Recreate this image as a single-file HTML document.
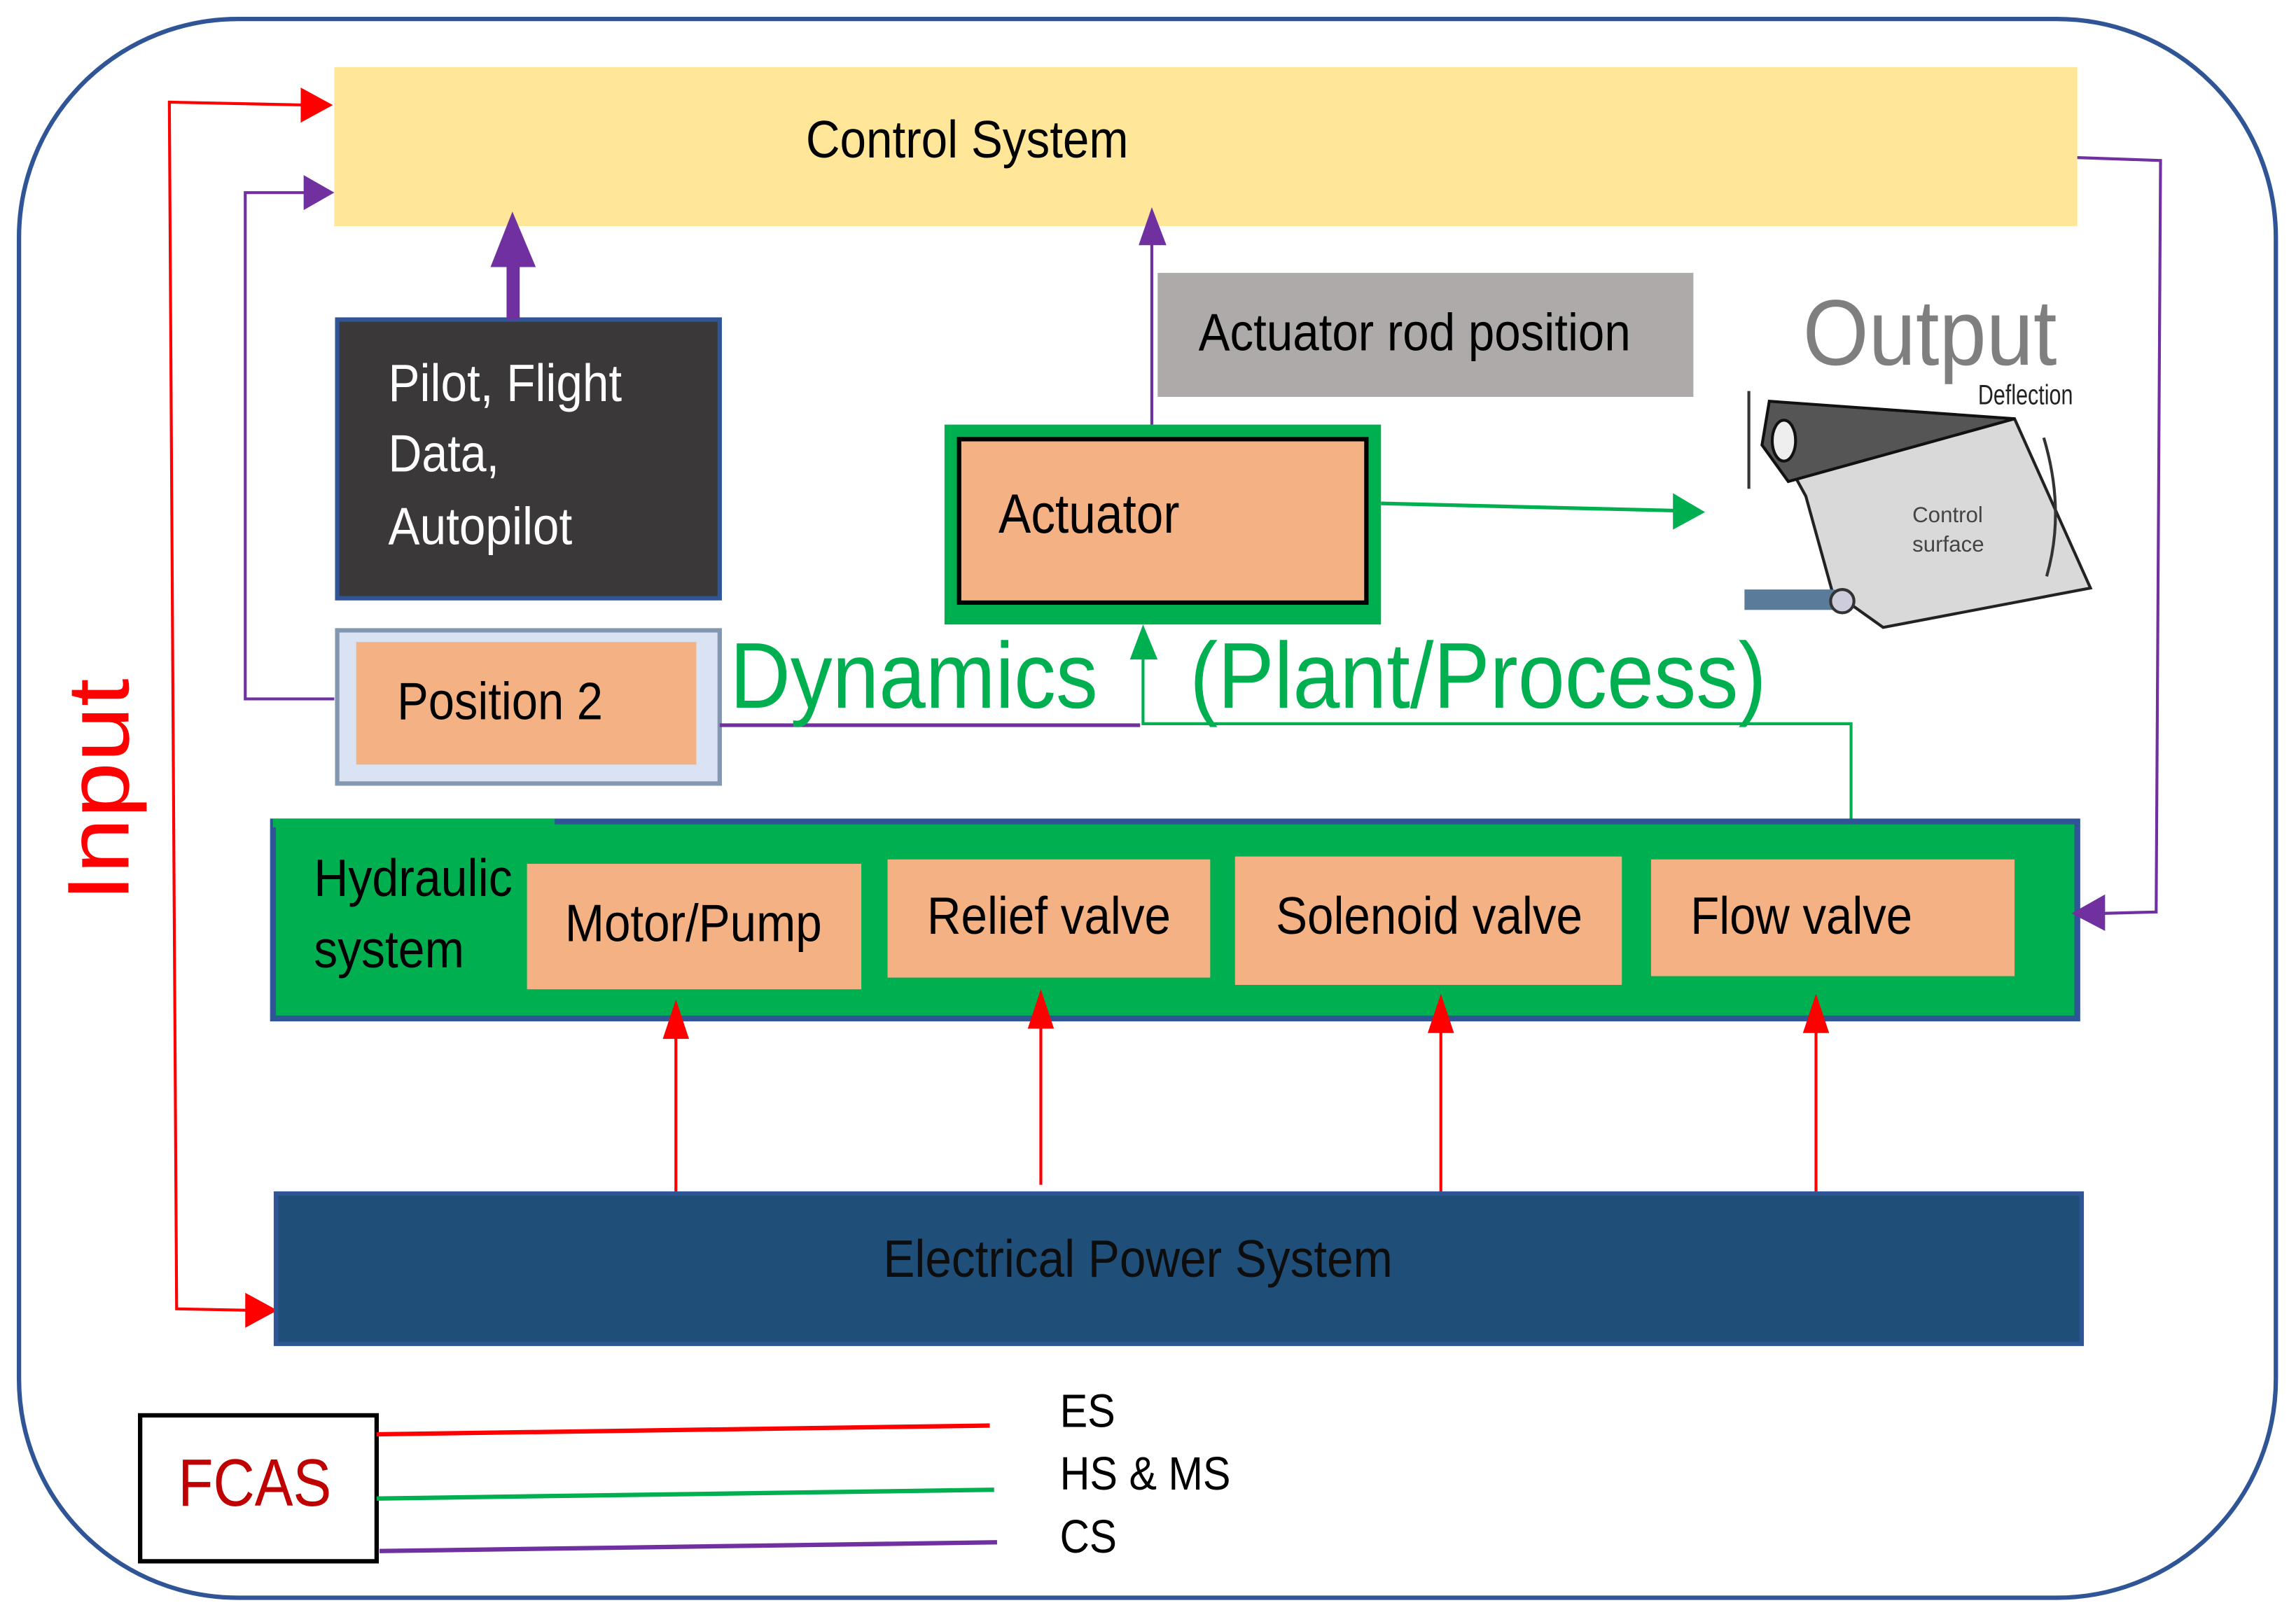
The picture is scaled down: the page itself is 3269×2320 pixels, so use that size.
<!DOCTYPE html>
<html><head><meta charset="utf-8"><style>html,body{margin:0;padding:0;background:#fff}svg{display:block}</style></head>
<body>
<svg width="3269" height="2320" viewBox="0 0 1568 1113" preserveAspectRatio="none" xmlns="http://www.w3.org/2000/svg" font-family="'Liberation Sans', Arial, sans-serif">
<rect x="13" y="13" width="1546" height="1082" rx="150" ry="150" fill="#fff" stroke="#2f5597" stroke-width="3"/>
<!-- Control system -->
<rect x="229" y="46" width="1194" height="109" fill="#ffe699"/>
<text x="552" y="108" font-size="36" textLength="221" lengthAdjust="spacingAndGlyphs">Control System</text>
<!-- red input line -->
<polyline points="210,72 116,70 121,897 170,898" fill="none" stroke="#ff0000" stroke-width="2"/>
<polygon points="206,60 228,72 206,84" fill="#ff0000"/>
<polygon points="168,886 190,898 168,910" fill="#ff0000"/>
<!-- purple loop from position 2 -->
<polyline points="229,479 168,479 168,132 212,132" fill="none" stroke="#7030a0" stroke-width="2"/>
<polygon points="208,120 229,132 208,144" fill="#7030a0"/>
<!-- pilot box -->
<rect x="231" y="219" width="262" height="191" fill="#3a3838" stroke="#2f5597" stroke-width="3"/>
<text fill="#fff" font-size="36"><tspan x="266" y="275" textLength="160" lengthAdjust="spacingAndGlyphs">Pilot, Flight</tspan><tspan x="266" y="323" textLength="76" lengthAdjust="spacingAndGlyphs">Data,</tspan><tspan x="266" y="373" textLength="126" lengthAdjust="spacingAndGlyphs">Autopilot</tspan></text>
<rect x="347" y="178" width="9" height="41" fill="#7030a0"/>
<polygon points="336,183 351,145 367,183" fill="#7030a0"/>
<!-- actuator rod position -->
<rect x="793" y="187" width="367" height="85" fill="#aeaaaa"/>
<text x="821" y="240" font-size="36" textLength="296" lengthAdjust="spacingAndGlyphs">Actuator rod position</text>
<line x1="789" y1="291" x2="789" y2="165" stroke="#7030a0" stroke-width="2"/>
<polygon points="780,168 789,142 799,168" fill="#7030a0"/>
<!-- actuator -->
<rect x="647" y="291" width="299" height="137" fill="#00b050"/>
<rect x="657" y="301" width="279" height="112" fill="#f4b183" stroke="#000" stroke-width="3"/>
<text x="684" y="365" font-size="38" textLength="124" lengthAdjust="spacingAndGlyphs">Actuator</text>
<line x1="946" y1="345" x2="1150" y2="350" stroke="#00b050" stroke-width="2.5"/>
<polygon points="1146,338 1168,351 1146,363" fill="#00b050"/>
<!-- output graphic -->
<text x="1235" y="250" font-size="64" fill="#7f7f7f" textLength="174" lengthAdjust="spacingAndGlyphs">Output</text>
<polygon points="1215,300 1380,287 1432,403 1290,430 1255,405 1237,340" fill="#d9d9d9" stroke="#222" stroke-width="2"/>
<polygon points="1212,275 1380,287 1225,330 1207,305" fill="#555" stroke="#111" stroke-width="2"/>
<ellipse cx="1222" cy="302" rx="8" ry="14" fill="#eee" stroke="#111" stroke-width="2"/>
<line x1="1198" y1="268" x2="1198" y2="335" stroke="#333" stroke-width="2"/>
<rect x="1195" y="404" width="62" height="14" fill="#5b7b9a"/>
<circle cx="1262" cy="412" r="8" fill="#ccd" stroke="#333" stroke-width="2"/>
<path d="M1400,300 Q1415,350 1402,395" fill="none" stroke="#333" stroke-width="2"/>
<text x="1355" y="277" font-size="19" fill="#222" textLength="65" lengthAdjust="spacingAndGlyphs">Deflection</text>
<text x="1310" y="358" font-size="15" fill="#444">Control</text>
<text x="1310" y="378" font-size="15" fill="#444">surface</text>
<!-- position 2 -->
<rect x="231" y="432" width="262" height="105" fill="#dae3f3" stroke="#8497b0" stroke-width="3"/>
<rect x="244" y="440" width="233" height="84" fill="#f4b183"/>
<text x="272" y="493" font-size="36" textLength="141" lengthAdjust="spacingAndGlyphs">Position 2</text>
<!-- dynamics -->
<line x1="493" y1="497" x2="781" y2="497" stroke="#7030a0" stroke-width="2.5"/>
<polyline points="1268,562 1268,496 783,496 783,450" fill="none" stroke="#00b050" stroke-width="2"/>
<polygon points="774,452 783,428 793,452" fill="#00b050"/>
<text x="500" y="485" font-size="64" fill="#00b050" textLength="252" lengthAdjust="spacingAndGlyphs">Dynamics</text>
<text x="815" y="485" font-size="64" fill="#00b050" textLength="395" lengthAdjust="spacingAndGlyphs">(Plant/Process)</text>
<!-- hydraulic -->
<rect x="187" y="563" width="1236" height="135" fill="#00b050" stroke="#2f5597" stroke-width="4"/>
<rect x="187" y="561" width="193" height="6" fill="#00b050"/>
<text font-size="36"><tspan x="215" y="614" textLength="136" lengthAdjust="spacingAndGlyphs">Hydraulic</tspan><tspan x="215" y="663" textLength="103" lengthAdjust="spacingAndGlyphs">system</tspan></text>
<rect x="361" y="592" width="229" height="86" fill="#f4b183"/>
<rect x="608" y="589" width="221" height="81" fill="#f4b183"/>
<rect x="846" y="587" width="265" height="88" fill="#f4b183"/>
<rect x="1131" y="589" width="249" height="80" fill="#f4b183"/>
<text font-size="36">
<tspan x="387" y="645" textLength="176" lengthAdjust="spacingAndGlyphs">Motor/Pump</tspan>
<tspan x="635" y="640" textLength="167" lengthAdjust="spacingAndGlyphs">Relief valve</tspan>
<tspan x="874" y="640" textLength="210" lengthAdjust="spacingAndGlyphs">Solenoid valve</tspan>
<tspan x="1158" y="640" textLength="152" lengthAdjust="spacingAndGlyphs">Flow valve</tspan>
</text>
<polyline points="1423,108 1480,110 1477,625 1440,626" fill="none" stroke="#7030a0" stroke-width="2"/>
<polygon points="1442,613 1419,626 1442,638" fill="#7030a0"/>
<!-- red arrows -->
<g stroke="#ff0000" stroke-width="2">
<line x1="463" y1="817" x2="463" y2="705"/><line x1="713" y1="812" x2="713" y2="700"/><line x1="987" y1="817" x2="987" y2="705"/><line x1="1244" y1="817" x2="1244" y2="705"/>
</g>
<g fill="#ff0000">
<polygon points="454,712 463,685 472,712"/><polygon points="704,705 713,678 722,705"/><polygon points="978,708 987,681 996,708"/><polygon points="1235,708 1244,681 1253,708"/>
</g>
<!-- electrical -->
<rect x="189" y="818" width="1237" height="103" fill="#1f4e79" stroke="#2f5597" stroke-width="3"/>
<text x="605" y="875" font-size="36" fill="#0d0d0d" textLength="349" lengthAdjust="spacingAndGlyphs">Electrical Power System</text>
<!-- input label -->
<text transform="translate(88,618) rotate(-90)" font-size="60" fill="#ff0000" textLength="153" lengthAdjust="spacingAndGlyphs">Input</text>
<!-- FCAS -->
<rect x="96" y="970" width="162" height="100" fill="#fff" stroke="#000" stroke-width="3"/>
<text x="122" y="1032" font-size="46" fill="#c00000" textLength="105" lengthAdjust="spacingAndGlyphs">FCAS</text>
<line x1="258" y1="983" x2="678" y2="977" stroke="#ff0000" stroke-width="3"/>
<line x1="258" y1="1027" x2="681" y2="1021" stroke="#00b050" stroke-width="3"/>
<line x1="260" y1="1063" x2="683" y2="1057" stroke="#7030a0" stroke-width="3"/>
<text font-size="32">
<tspan x="726" y="978" textLength="38" lengthAdjust="spacingAndGlyphs">ES</tspan>
<tspan x="726" y="1021" textLength="117" lengthAdjust="spacingAndGlyphs">HS &amp; MS</tspan>
<tspan x="726" y="1064" textLength="39" lengthAdjust="spacingAndGlyphs">CS</tspan>
</text>
</svg>
</body></html>
